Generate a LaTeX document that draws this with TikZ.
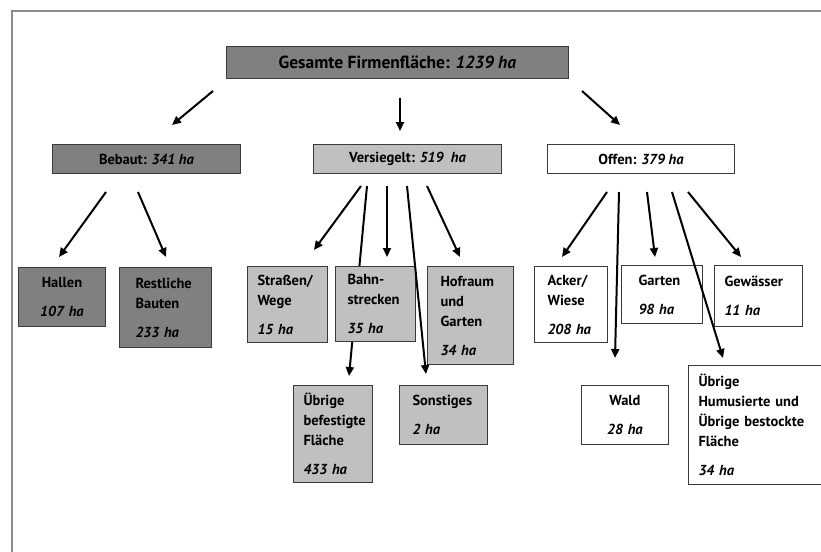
\documentclass[tikz,border=0pt]{standalone}
\usepackage{fontspec}
\setmainfont{PT Sans}
\usetikzlibrary{arrows.meta}
\definecolor{darkfill}{HTML}{808080}
\definecolor{lightfill}{HTML}{C0C0C0}
\definecolor{boxline}{HTML}{3A3A3A}
\definecolor{framegray}{HTML}{8A8A8A}
\newcommand{\boxfont}{\fontsize{14.5}{20}\selectfont\bfseries\hyphenpenalty=10000\exhyphenpenalty=10000\tolerance=10000\hbadness=10000}
\newcommand{\topfont}{\fontsize{17.5}{22}\selectfont\bfseries}
\tikzset{
  box/.style={draw=boxline, line width=1pt, rectangle, anchor=north west,
    inner xsep=0pt, inner ysep=0pt, font=\boxfont, text=black},
  dk/.style={box, fill=darkfill},
  lt/.style={box, fill=lightfill},
  wt/.style={box, fill=white},
  arr/.style={line width=2pt, -{Triangle[length=9pt,width=8pt]}},
  framel/.style={draw=framegray, line width=2pt}
}
\begin{document}
\begin{tikzpicture}[x=1pt,y=-1pt]
\useasboundingbox[fill=white] (0,0) rectangle (821,551);
% frame
\coordinate (f1) at (12,552);
\coordinate (f2) at (12,11);
\coordinate (f3) at (822,11);
\draw[framel] (f1) -- (f2) -- (f3);

% arrow coordinates
\coordinate (t1s) at (213,91);  \coordinate (t1e) at (172,125);
\coordinate (t2s) at (400,98);  \coordinate (t2e) at (400,131);
\coordinate (t3s) at (582,91);  \coordinate (t3e) at (620,125);
\coordinate (b1s) at (106,192); \coordinate (b1e) at (59,257);
\coordinate (b2s) at (138,192); \coordinate (b2e) at (166,257);
\coordinate (v1s) at (361,186); \coordinate (v1e) at (314,250);
\coordinate (v2s) at (367,186); \coordinate (v2e) at (349,376);
\coordinate (v3s) at (387,186); \coordinate (v3e) at (387,257);
\coordinate (v4s) at (407,186); \coordinate (v4e) at (426,374);
\coordinate (v5s) at (427,186); \coordinate (v5e) at (460,257);
\coordinate (o1s) at (607,192); \coordinate (o1e) at (562,257);
\coordinate (o2s) at (619,192); \coordinate (o2e) at (615,358);
\coordinate (o3s) at (647,192); \coordinate (o3e) at (655,257);
\coordinate (o4s) at (672,192); \coordinate (o4e) at (723,358);
\coordinate (o5s) at (688,192); \coordinate (o5e) at (741,257);

% arrows drawn behind boxes
\draw[arr] (v2s) -- (v2e);

% top level
\node[dk, minimum width=342, minimum height=32, align=center, font=\topfont] (top) at (226,46)
  {Gesamte Firmenfläche: \textit{1239~ha}};
\node[dk, minimum width=188, minimum height=29, align=center] (bebaut) at (52,144)
  {Bebaut: \textit{341~ha}};
\node[lt, minimum width=188, minimum height=29, align=center] (versiegelt) at (313,144)
  {Versiegelt: \textit{519~ ha}};
\node[wt, minimum width=187, minimum height=29, align=center] (offen) at (547,144)
  {Offen: \textit{379~ha}};

% Bebaut children
\node[dk, minimum width=87, minimum height=59, text width=67, align=center] (hallen) at (18,267)
  {Hallen\\[9pt]\textit{107~ha}};
\node[dk, minimum width=92, minimum height=80, text width=60, align=left] (restliche) at (119,267)
  {Restliche\\Bauten\\[9pt]\textit{233~ha}};

% Versiegelt children
\node[lt, minimum width=80, minimum height=76, text width=60, align=left] (strassen) at (247,266)
  {Straßen/\\Wege\\[9pt]\textit{15~ha}};
\node[lt, minimum width=80, minimum height=75, text width=56, align=left] (bahn) at (335,266)
  {Bahn-\\strecken\\[9pt]\textit{35~ha}};
\node[lt, minimum width=86, minimum height=98, text width=60, align=left] (hofraum) at (427,266)
  {Hofraum\\und\\Garten\\[9pt]\textit{34~ha}};
\node[lt, minimum width=79, minimum height=97, text width=59, align=left] (befestigt) at (293,385)
  {Übrige\\befestigte\\Fläche\\[9pt]\textit{433~ha}};
\node[lt, minimum width=88, minimum height=59, text width=62, align=left] (sonstiges) at (399,385)
  {Sonstiges\\[9pt]\textit{2~ha}};

% Offen children
\node[wt, minimum width=73, minimum height=76, text width=47, align=left] (acker) at (534,266)
  {Acker/\\Wiese\\[9pt]\textit{208~ha}};
\node[wt, minimum width=81, minimum height=58, text width=47, align=left] (garten) at (621,265)
  {Garten\\[9pt]\textit{98~ha}};
\node[wt, minimum width=88, minimum height=61, text width=68, align=left] (gewaesser) at (714,265)
  {Gewässer\\[9pt]\textit{11~ha}};
\node[wt, minimum width=87, minimum height=59, text width=67, align=center] (wald) at (581,385)
  {Wald\\[9pt]\textit{28~ha}};
\node[wt, minimum width=136, minimum height=119, text width=116, align=left] (humus) at (688,365)
  {Übrige\\Humusierte~und\\Übrige~bestockte\\Fläche\\[9pt]\textit{34~ha}};

% arrows drawn on top
\draw[arr] (t1s) -- (t1e);
\draw[arr] (t2s) -- (t2e);
\draw[arr] (t3s) -- (t3e);
\draw[arr] (b1s) -- (b1e);
\draw[arr] (b2s) -- (b2e);
\draw[arr] (v1s) -- (v1e);
\draw[arr] (v3s) -- (v3e);
\draw[arr] (v4s) -- (v4e);
\draw[arr] (v5s) -- (v5e);
\draw[arr] (o1s) -- (o1e);
\draw[arr] (o2s) -- (o2e);
\draw[arr] (o3s) -- (o3e);
\draw[arr] (o4s) -- (o4e);
\draw[arr] (o5s) -- (o5e);
\end{tikzpicture}
\end{document}
